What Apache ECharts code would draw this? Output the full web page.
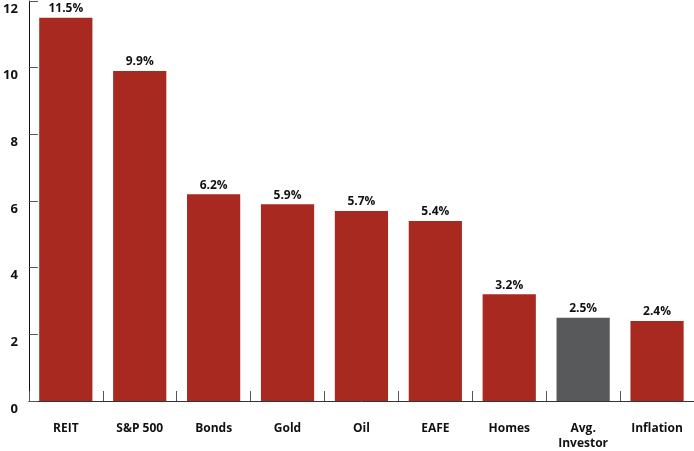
<!DOCTYPE html>
<html><head><meta charset="utf-8">
<script src="https://cdn.jsdelivr.net/npm/echarts@6/dist/echarts.min.js"></script>
<style>html,body{margin:0;padding:0;background:#fff}#c{width:694px;height:451px}</style>
</head><body><div id="c"></div>
<script>
const categories = ['REIT','S&P 500','Bonds','Gold','Oil','EAFE','Homes','Avg.\nInvestor','Inflation'];
const values = [11.5, 9.9, 6.2, 5.9, 5.7, 5.4, 3.2, 2.5, 2.4];
const highlight = 'Avg.\nInvestor';
const RED = '#A8291F', GRAY = '#58595B';
const chart = echarts.init(document.getElementById('c'));
chart.setOption({
  animation: false,
  grid: {left: 26, right: 0, top: 1, bottom: 50, containLabel: false},
  xAxis: {
    type: 'category', data: categories,
    axisLine: {show: true, lineStyle: {color: '#333', width: 1}},
    axisTick: {show: true, inside: true, length: 10, alignWithLabel: false, lineStyle: {color: '#555'}},
    axisLabel: {margin: 20, color: '#111', fontFamily: 'Open Sans', fontWeight: 'bold', fontSize: 12, lineHeight: 15, interval: 0}
  },
  yAxis: {
    type: 'value', min: 0, max: 12, interval: 2,
    splitLine: {show: false},
    axisLine: {show: true, lineStyle: {color: '#111', width: 1}},
    axisTick: {show: true, inside: true, length: 9, lineStyle: {color: '#555'}},
    axisLabel: {margin: 11, color: '#111', fontFamily: 'Open Sans', fontWeight: 'bold', fontSize: 13, verticalAlign: 'top', lineHeight: 16}
  },
  series: [{
    type: 'bar', barCategoryGap: '28%',
    data: values.map((v, i) => ({value: v, itemStyle: {color: categories[i] === highlight ? GRAY : RED}})),
    label: {show: true, position: 'top', distance: 3, formatter: p => p.value.toFixed(1) + '%',
      color: '#111', fontFamily: 'Open Sans', fontWeight: 'bold', fontSize: 12}
  }]
});
</script></body></html>
